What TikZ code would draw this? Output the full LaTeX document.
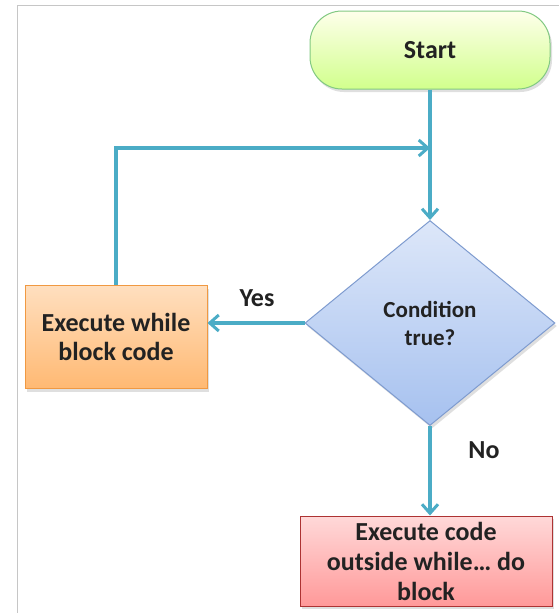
\documentclass[tikz,border=0pt]{standalone}
\usepackage{fontspec}
\setmainfont{Carlito}
\usetikzlibrary{shapes.geometric,arrows.meta,shadows}
\definecolor{flow}{HTML}{4BACC6}
\definecolor{txt}{HTML}{222222}
\definecolor{dtop}{HTML}{DDE7F9}
\definecolor{dbot}{HTML}{A6C1EF}
\definecolor{dline}{HTML}{7E9BCF}
\tikzset{
  box/.style={draw, line width=1pt, align=center, font=\fontsize{26}{29}\selectfont\bfseries, text=txt, inner sep=0pt,
    drop shadow={opacity=0.25, shadow xshift=2pt, shadow yshift=-3pt}},
  startbox/.style={box, rounded corners=32pt, draw=green!40!gray!70, top color=green!5!yellow!8, bottom color=green!40!yellow!45},
  decbox/.style={box, shape=diamond, font=\fontsize{23}{28}\selectfont\bfseries, draw=dline, top color=dtop, bottom color=dbot},
  yesbox/.style={box, draw=orange!70!brown!80, top color=orange!25, bottom color=orange!55},
  nobox/.style={box, font=\fontsize{26}{30}\selectfont\bfseries, draw=red!60!black!80, top color=red!15, bottom color=red!40},
  conn/.style={draw=flow, line width=3.5pt, -{Straight Barb[length=9pt,width=16pt,line width=3pt]}},
  lbl/.style={font=\fontsize{26}{29}\selectfont\bfseries, text=txt}
}
\begin{document}
\begin{tikzpicture}[x=1pt,y=-1pt]
\useasboundingbox (0,0) rectangle (559,613);
\draw[gray!45, line width=1pt] (17,613) -- (17,5) -- (559,5);
\node[startbox, minimum width=240pt, minimum height=78pt] (start) at (430,50) {Start};
\node[decbox, minimum width=250pt, minimum height=205pt] (cond) at (430,323) {Condition\\true?};
\node[yesbox, minimum width=182pt, minimum height=103pt] (body) at (116,337) {Execute while\\block code};
\node[nobox, minimum width=252pt, minimum height=90pt] (after) at (426,561) {Execute code\\outside while\dots{} do\\block};
\coordinate (loopin) at (430,148);
\draw[conn] (start.south) -- (cond.north);
\draw[conn] (cond.west) -- (cond.west -| body.east);
\draw[conn] (body.north) |- (loopin);
\draw[conn] (cond.south) -- (cond.south |- after.north);
\node[lbl] (yes) at (257,298) {Yes};
\node[lbl] (no) at (484,450) {No};
\end{tikzpicture}
\end{document}
